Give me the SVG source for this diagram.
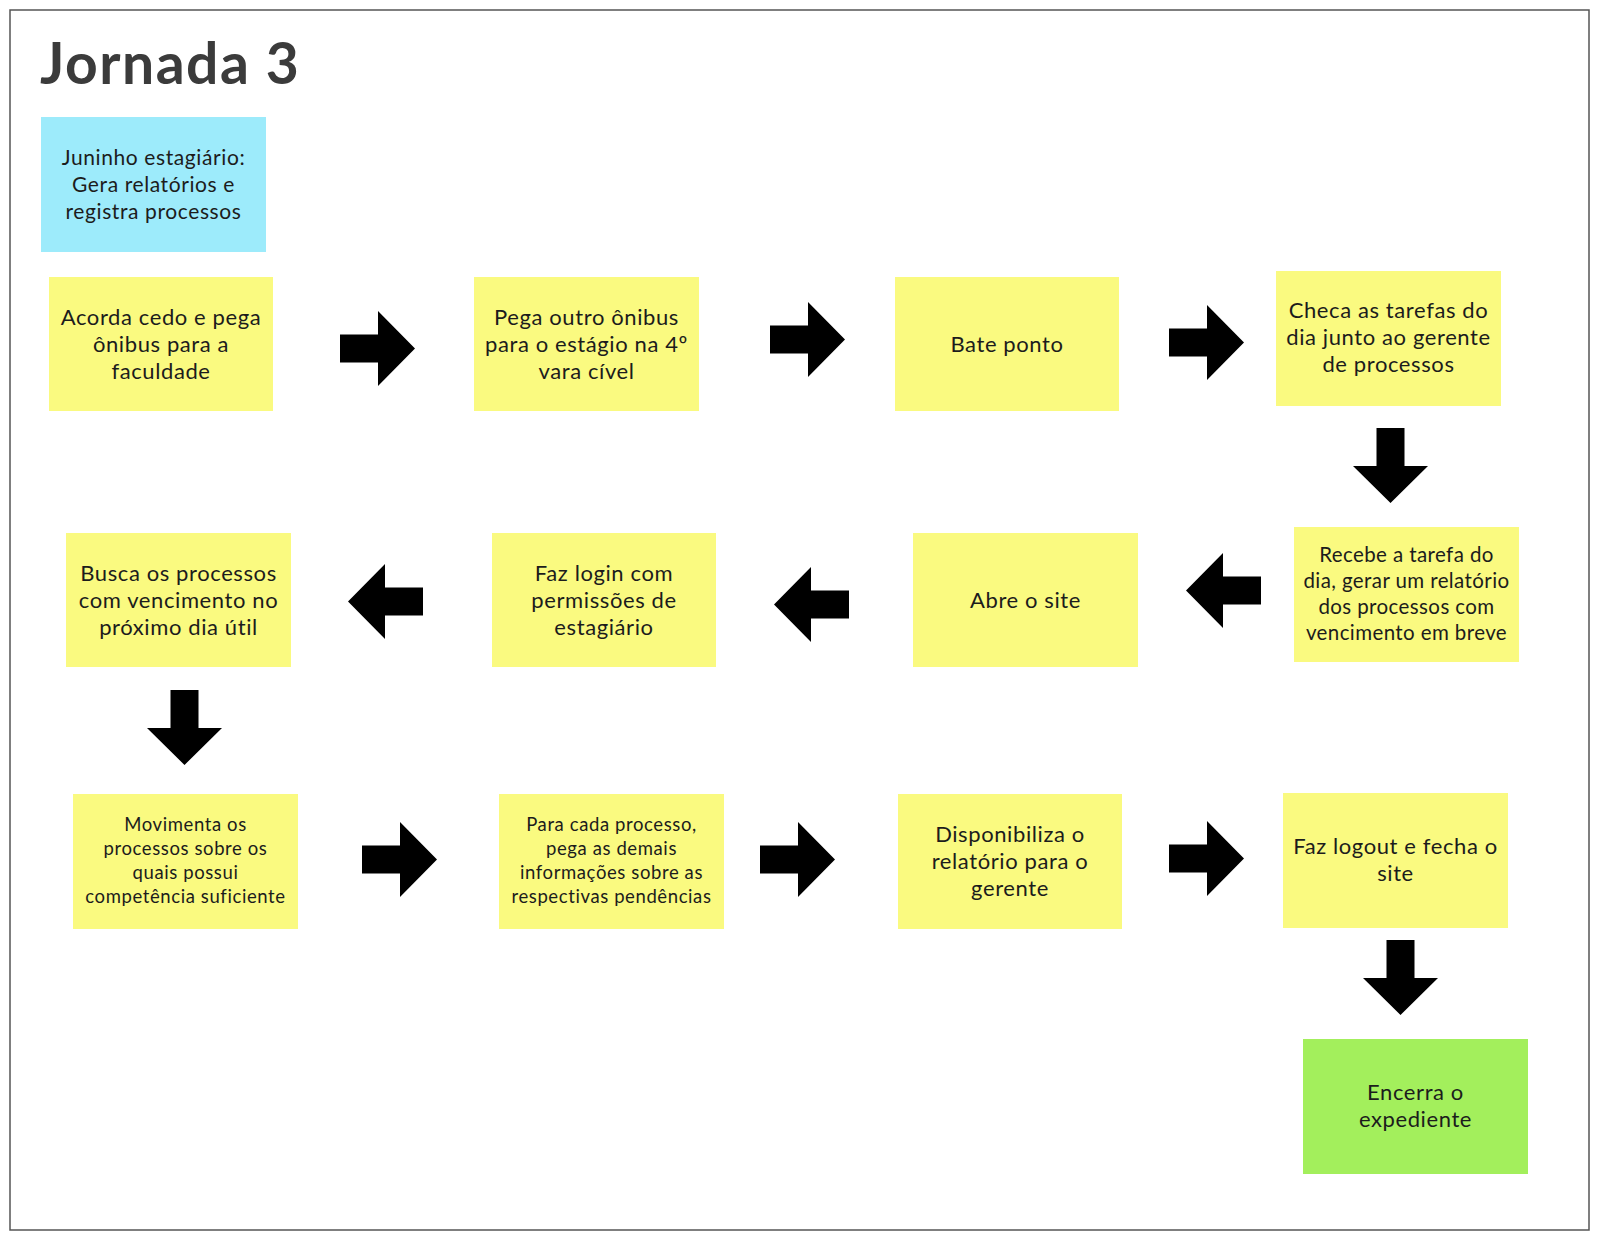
<svg xmlns="http://www.w3.org/2000/svg" width="1600" height="1240" viewBox="0 0 1600 1240">
<style>
.note{fill:#FAFA80}
.blue{fill:#9DEBFB}
.green{fill:#A3EF5C}
.t{font-family:Lato,"Open Sans","Liberation Sans",sans-serif;font-size:22px;letter-spacing:0.6px;fill:#1c1c1c;text-anchor:middle}
.b{font-size:21px}
.s{font-size:20.5px;letter-spacing:0.4px}
.xs{font-size:18.5px;letter-spacing:0.6px}
.arr{fill:#000}
</style>
<defs>
<path id="ar" d="M0,23.5 H38 V0 L75,37.5 L38,75 V51.5 H0 Z"/>
<path id="al" d="M75,23.5 H37 V0 L0,37.5 L37,75 V51.5 H75 Z"/>
<path id="ad" d="M23.5,0 V38 H0 L37.5,75 L75,38 H51.5 V0 Z"/>
</defs>
<rect x="0" y="0" width="1600" height="1240" fill="#fff"/>
<rect x="10" y="10" width="1579" height="1220" fill="#fff" stroke="#555" stroke-width="1.5"/>
<text x="40" y="84" font-family="Lato,'Open Sans','Liberation Sans',sans-serif" font-size="57" font-weight="700" letter-spacing="1.5" fill="#3b3b3b">Jornada 3</text>

<g id="persona"><rect class="blue" x="41" y="117" width="225" height="135"/>
<text class="t b"><tspan x="153.5" y="165">Juninho estagiário:</tspan><tspan x="153.5" y="192">Gera relatórios e</tspan><tspan x="153.5" y="219">registra processos</tspan></text></g>

<g id="n1"><rect class="note" x="49" y="277" width="224" height="134"/>
<text class="t"><tspan x="161" y="325">Acorda cedo e pega</tspan><tspan x="161" y="352">ônibus para a</tspan><tspan x="161" y="379">faculdade</tspan></text></g>

<g id="n2"><rect class="note" x="474" y="277" width="225" height="134"/>
<text class="t"><tspan x="586.5" y="325">Pega outro ônibus</tspan><tspan x="586.5" y="352">para o estágio na 4º</tspan><tspan x="586.5" y="379">vara cível</tspan></text></g>

<g id="n3"><rect class="note" x="895" y="277" width="224" height="134"/>
<text class="t" x="1007" y="352">Bate ponto</text></g>

<g id="n4"><rect class="note" x="1276" y="271" width="225" height="135"/>
<text class="t"><tspan x="1388.5" y="318">Checa as tarefas do</tspan><tspan x="1388.5" y="345">dia junto ao gerente</tspan><tspan x="1388.5" y="372">de processos</tspan></text></g>

<g id="n5"><rect class="note" x="1294" y="527" width="225" height="135"/>
<text class="t s"><tspan x="1406.5" y="562">Recebe a tarefa do</tspan><tspan x="1406.5" y="588">dia, gerar um relatório</tspan><tspan x="1406.5" y="614">dos processos com</tspan><tspan x="1406.5" y="640">vencimento em breve</tspan></text></g>

<g id="n6"><rect class="note" x="913" y="533" width="225" height="134"/>
<text class="t" x="1025.5" y="608">Abre o site</text></g>

<g id="n7"><rect class="note" x="492" y="533" width="224" height="134"/>
<text class="t"><tspan x="604" y="581">Faz login com</tspan><tspan x="604" y="608">permissões de</tspan><tspan x="604" y="635">estagiário</tspan></text></g>

<g id="n8"><rect class="note" x="66" y="533" width="225" height="134"/>
<text class="t"><tspan x="178.5" y="581">Busca os processos</tspan><tspan x="178.5" y="608">com vencimento no</tspan><tspan x="178.5" y="635">próximo dia útil</tspan></text></g>

<g id="n9"><rect class="note" x="73" y="794" width="225" height="135"/>
<text class="t xs"><tspan x="185.5" y="831">Movimenta os</tspan><tspan x="185.5" y="855">processos sobre os</tspan><tspan x="185.5" y="879">quais possui</tspan><tspan x="185.5" y="903">competência suficiente</tspan></text></g>

<g id="n10"><rect class="note" x="499" y="794" width="225" height="135"/>
<text class="t xs"><tspan x="611.5" y="831">Para cada processo,</tspan><tspan x="611.5" y="855">pega as demais</tspan><tspan x="611.5" y="879">informações sobre as</tspan><tspan x="611.5" y="903">respectivas pendências</tspan></text></g>

<g id="n11"><rect class="note" x="898" y="794" width="224" height="135"/>
<text class="t"><tspan x="1010" y="842">Disponibiliza o</tspan><tspan x="1010" y="869">relatório para o</tspan><tspan x="1010" y="896">gerente</tspan></text></g>

<g id="n12"><rect class="note" x="1283" y="793" width="225" height="135"/>
<text class="t"><tspan x="1395.5" y="854">Faz logout e fecha o</tspan><tspan x="1395.5" y="881">site</tspan></text></g>

<g id="n13"><rect class="green" x="1303" y="1039" width="225" height="135"/>
<text class="t"><tspan x="1415.5" y="1100">Encerra o</tspan><tspan x="1415.5" y="1127">expediente</tspan></text></g>

<g id="connectors" class="arr">
<use href="#ar" x="340" y="311"/>
<use href="#ar" x="770" y="302"/>
<use href="#ar" x="1169" y="305"/>
<use href="#ad" x="1353" y="428"/>
<use href="#al" x="1186" y="553"/>
<use href="#al" x="774" y="567"/>
<use href="#al" x="348" y="564"/>
<use href="#ad" x="147" y="690"/>
<use href="#ar" x="362" y="822"/>
<use href="#ar" x="760" y="822"/>
<use href="#ar" x="1169" y="821"/>
<use href="#ad" x="1363" y="940"/>
</g>
</svg>
